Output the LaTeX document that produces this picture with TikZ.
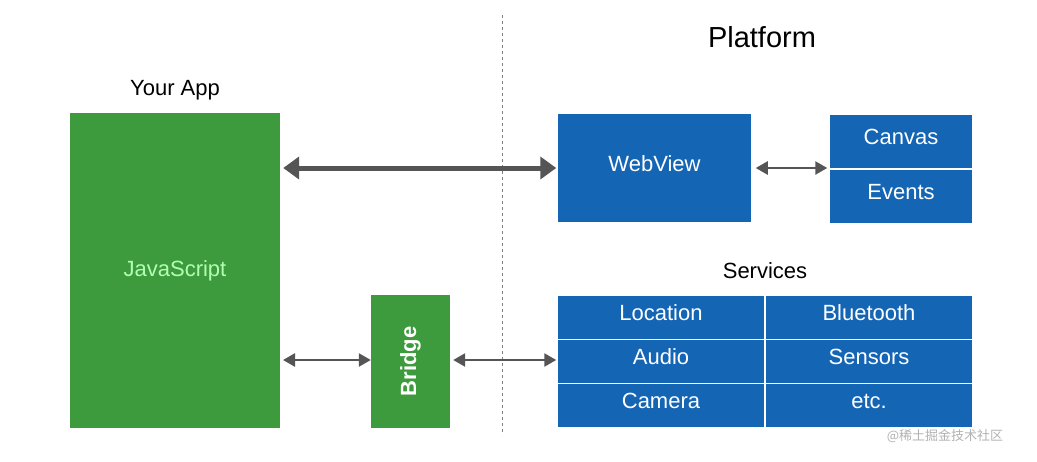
\documentclass[tikz,border=0pt]{standalone}
\usepackage{fontspec}
\setmainfont{Liberation Sans}
\newfontfamily\cjk{Noto Sans CJK SC}
\usetikzlibrary{arrows.meta}
\definecolor{grn}{HTML}{3D9A3D}
\definecolor{blu}{HTML}{1565B5}
\definecolor{arr}{HTML}{555555}
\begin{document}
\begin{tikzpicture}[x=1pt,y=-1pt,
 gbox/.style={fill=grn,draw=none,inner sep=0},
 bbox/.style={fill=blu,draw=white,line width=1.5pt,inner sep=0,text=white,font=\fontsize{22}{26}\selectfont,text height=15pt,text depth=9pt},
 lbl/.style={font=\fontsize{22}{26}\selectfont},
 thick arr/.style={arr,line width=5pt,{Triangle[length=16pt,width=22pt]}-{Triangle[length=16pt,width=22pt]}},
 thin arr/.style={arr,line width=2.5pt,{Triangle[length=12pt,width=13pt]}-{Triangle[length=12pt,width=13pt]}}]
\useasboundingbox[fill=white] (0,0) rectangle (1037,461);
\draw[dashed,gray,line width=0.8pt] (502,15) -- (502,435);
\node[lbl] (yourapp) at (175,90) {Your App};
\node[font=\fontsize{29}{32}\selectfont] (platform) at (762,37) {Platform};
\node[lbl] (services) at (765,271) {Services};
\node[gbox,minimum width=210,minimum height=315,text=green!30!white,font=\fontsize{22}{26}\selectfont] (js) at (175,270.5) {JavaScript};
\node[gbox,minimum width=79,minimum height=133] (bridge) at (410.5,361.5) {};
\node[rotate=90,text=white,font=\bfseries\fontsize{22}{26}\selectfont] at (bridge) {Bridge};
\node[bbox,minimum width=195,minimum height=110] (web) at (654.5,168) {WebView};
\node[bbox,minimum width=144,minimum height=55] (canvas) at (901,141.5) {Canvas};
\node[bbox,minimum width=144,minimum height=55] (events) at (901,196.5) {Events};
\foreach \n/\t/\c/\r in {loc/Location/0/0,blue/Bluetooth/1/0,aud/Audio/0/1,sen/Sensors/1/1,cam/Camera/0/2,etc/etc./1/2}{
 \node[bbox,minimum width=208,minimum height=44.3] (\n) at (661+208*\c,317.2+44.3*\r) {\t};}
\draw[thick arr] (js.east|-web.west) ++(3,0) coordinate (a1) -- (web.west);
\draw[thin arr] ([xshift=3pt]web.east) -- ([xshift=-1pt]canvas.west|-web.east);
\coordinate (b1) at (283,360);
\draw[thin arr] (b1) -- (bridge.west|-b1);
\draw[thin arr] ([xshift=3pt]bridge.east|-b1) -- (aud.west|-b1);
\node[gray!60,font=\cjk\fontsize{13}{14}\selectfont] (wm) at (945,436) {@稀土掘金技术社区};
\end{tikzpicture}
\end{document}
